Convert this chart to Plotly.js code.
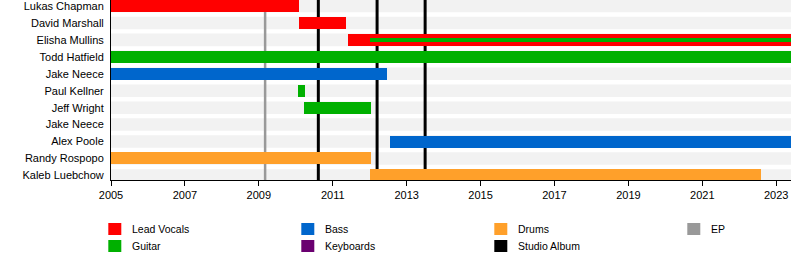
<!DOCTYPE html>
<html><head><meta charset="utf-8">
<script src="https://cdn.plot.ly/plotly-3.0.1.min.js"></script>
<style>html,body{margin:0;padding:0;background:#fff}#chart{width:800px;height:260px}</style>
</head><body><div id="chart"></div>
<script>
const members = ["Lukas Chapman","David Marshall","Elisha Mullins","Todd Hatfield","Jake Neece","Paul Kellner","Jeff Wright","Jake Neece","Alex Poole","Randy Rospopo","Kaleb Luebchow"];
const START = 2005, END = 2023.4;
const xTicks = [2005,2007,2009,2011,2013,2015,2017,2019,2021,2023];

const vocalsRow = [0,1,2], vocalsStart = [2005,2010.1,2011.4], vocalsEnd = [2010.1,2011.36,END];
const guitarRow = [3,5,6], guitarStart = [2005,2010.07,2010.23], guitarEnd = [END,2010.26,2012.04];
const guitar2Row = [2], guitar2Start = [2012.0], guitar2End = [END];
const bassRow = [4,8], bassStart = [2005,2012.56], bassEnd = [2012.47,END];
const drumsRow = [9,10], drumsStart = [2005,2012.02], drumsEnd = [2012.04,2022.6];
const epDates = [2009.17];
const albumDates = [2010.61,2012.2,2013.5];

const legendLabels = ["Lead Vocals","Bass","Drums","EP","Guitar","Keyboards","Studio Album"];
const legendColors = ["#ff0000","#0066cc","#ffa02a","#999999","#00b000","#6a0070","#000000"];

const C = {vocals:"#ff0000", guitar:"#00b000", bass:"#0066cc", drums:"#ffa02a", keys:"#6a0070", ep:"#999999", album:"#000000"};
const Y_TOP = -0.354, Y_BOT = 10.27;

function barTrace(rows, s, e, color, w){
  return {type:"bar", orientation:"h", y:rows, base:s, x:e.map((v,i)=>v-s[i]),
    width:w, marker:{color:color, line:{width:0}}, showlegend:false, hoverinfo:"skip"};
}
const traces = [
  barTrace(vocalsRow, vocalsStart, vocalsEnd, C.vocals, 0.708),
  barTrace(guitarRow, guitarStart, guitarEnd, C.guitar, 0.708),
  barTrace(bassRow, bassStart, bassEnd, C.bass, 0.708),
  barTrace(drumsRow, drumsStart, drumsEnd, C.drums, 0.708),
  barTrace(guitar2Row, guitar2Start, guitar2End, C.guitar, 0.28)
];

const shapes = [];
members.forEach((m,i)=>{
  shapes.push({type:"rect", layer:"below", xref:"x", yref:"y", x0:START, x1:END, y0:i-0.37, y1:i+0.37,
    fillcolor:"#f2f2f2", line:{width:0}});
});
epDates.forEach(d=>shapes.push({type:"line", layer:"below", xref:"x", yref:"y", x0:d, x1:d, y0:Y_TOP, y1:Y_BOT, line:{color:C.ep, width:2.5}}));
albumDates.forEach(d=>shapes.push({type:"line", layer:"below", xref:"x", yref:"y", x0:d, x1:d, y0:Y_TOP, y1:Y_BOT, line:{color:C.album, width:3}}));

// legend
const annotations = [];
const colX = [108,301,494,687];
const rowY = [229,246];
legendLabels.forEach((lab,i)=>{
  const c = i%4, r = Math.floor(i/4);
  const x = colX[c], y = rowY[r];
  shapes.push({type:"rect", xref:"paper", yref:"paper",
    x0:(x-110.7)/680, x1:(x+13-110.7)/680, y0:(180-(y+6))/180, y1:(180-(y-6))/180,
    fillcolor:legendColors[i], line:{width:0}});
  annotations.push({xref:"paper", yref:"paper", x:(x+22-110.7)/680, y:(180-y)/180, xanchor:"left", yanchor:"middle",
    text:lab, showarrow:false, font:{family:"Liberation Sans, Arial, sans-serif", size:10.5, color:"#000"}});
});

const layout = {
  width:800, height:260,
  margin:{l:110.7, r:9.3, t:0, b:80},
  paper_bgcolor:"#fff", plot_bgcolor:"#fff",
  barmode:"overlay", bargap:0,
  font:{family:"Liberation Sans, Arial, sans-serif", size:11, color:"#000"},
  xaxis:{range:[START,END], tickvals:xTicks, ticktext:xTicks.map(String), showgrid:false, zeroline:false,
    showline:true, linecolor:"#000", linewidth:1, ticks:"outside", ticklen:5, tickcolor:"#000", fixedrange:true},
  yaxis:{range:[Y_BOT,Y_TOP], tickvals:members.map((m,i)=>i), ticktext:members, showgrid:false, zeroline:false,
    showline:true, linecolor:"#000", linewidth:1, ticks:"", ticklabelstandoff:4, ticklabeloverflow:"allow", fixedrange:true},
  shapes:shapes, annotations:annotations, showlegend:false
};
Plotly.newPlot("chart", traces, layout, {displayModeBar:false, staticPlot:true});
</script></body></html>
